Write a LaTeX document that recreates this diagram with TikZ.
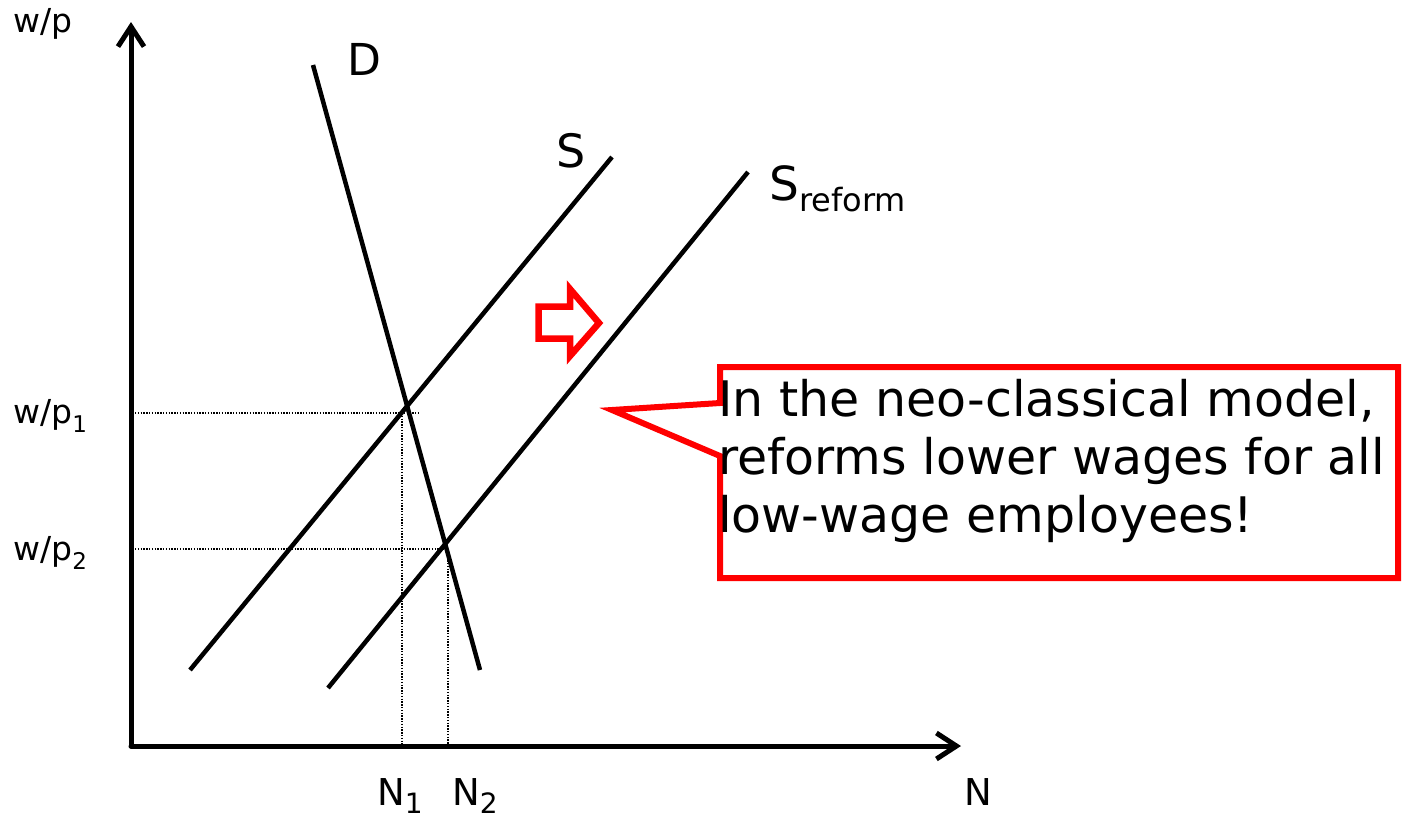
\documentclass[tikz,border=0pt]{standalone}
\usepackage{fontspec}
\setmainfont{DejaVu Sans}
\usetikzlibrary{arrows.meta}
\tikzset{
  axisline/.style={line width=5pt,line cap=round,line join=round,-{Straight Barb[length=20pt,width=26pt,line width=5pt]}},
  curve/.style={line width=4.5pt},
  guide/.style={line width=1.3pt,dash pattern=on 1.4pt off 1.4pt},
  lbl/.style={inner sep=0pt,anchor=base west},
  redline/.style={draw=red,line width=6pt},
  callouttext/.style={inner sep=0pt,anchor=base west,font=\fontsize{49}{49}\selectfont}
}
\begin{document}
\begin{tikzpicture}[x=1pt,y=-1pt]
\useasboundingbox (0,0) rectangle (1402,817);
\fill[white] (0,0) rectangle (1402,817);
% axes
\coordinate (O) at (131,746);
\coordinate (ytip) at (131,22);
\coordinate (xtip) at (961,746);
\draw[axisline] (O) -- (ytip);
\draw[axisline] (O) -- (xtip);
% curves
\coordinate (d1) at (313,65);
\coordinate (d2) at (480,670);
\coordinate (s1) at (190,670);
\coordinate (s2) at (612,157);
\coordinate (r1) at (328,688);
\coordinate (r2) at (748,172);
\draw[curve] (d1) -- (d2);
\draw[curve] (s1) -- (s2);
\draw[curve] (r1) -- (r2);
% guides
\coordinate (h1a) at (135,413);
\coordinate (h1b) at (418,413);
\coordinate (v1a) at (402,413);
\coordinate (v1b) at (402,744);
\coordinate (h2a) at (135,549);
\coordinate (h2b) at (447,549);
\coordinate (v2a) at (448,549);
\coordinate (v2b) at (448,744);
\draw[guide] (h1a) -- (h1b);
\draw[guide] (v1a) -- (v1b);
\draw[guide] (h2a) -- (h2b);
\draw[guide] (v2a) -- (v2b);
% labels
\node[lbl,font=\fontsize{33}{33}\selectfont] (wp) at (13,32) {w/p};
\node[lbl,font=\fontsize{33}{33}\selectfont] (wp1) at (13,423) {w/p\raisebox{-9pt}{\fontsize{23}{23}\selectfont 1}};
\node[lbl,font=\fontsize{33}{33}\selectfont] (wp2) at (13,560) {w/p\raisebox{-9pt}{\fontsize{23}{23}\selectfont 2}};
\node[lbl,font=\fontsize{37}{37}\selectfont] (n1) at (377,805) {N\raisebox{-8pt}{\fontsize{28}{28}\selectfont 1}};
\node[lbl,font=\fontsize{37}{37}\selectfont] (n2) at (452,805) {N\raisebox{-8pt}{\fontsize{28}{28}\selectfont 2}};
\node[lbl,font=\fontsize{37}{37}\selectfont] (nn) at (964,805) {N};
\node[lbl,font=\fontsize{44}{44}\selectfont] (dl) at (347,75) {D};
\node[lbl,font=\fontsize{46}{46}\selectfont] (sl) at (556,167) {S};
\node[lbl,font=\fontsize{47}{47}\selectfont] (rl) at (769,200) {S\raisebox{-11pt}{\fontsize{32}{32}\selectfont reform}};
% shift arrow
\draw[draw=red,line width=6.5pt,line join=miter]
  (538.5,306.5) -- (570,306.5) -- (570,289) -- (599,323) -- (570,356) -- (570,338.5) -- (538.5,338.5) -- cycle;
% callout
\coordinate (ctip) at (612,410);
\draw[redline,line join=miter]
  (720,367) -- (1398,367) -- (1398,578) -- (720,578) -- (720,456) -- (ctip) -- (720,403) -- cycle;
\node[callouttext] (t1) at (718,416) {In the neo-classical model,};
\node[callouttext] (t2) at (718,474) {reforms lower wages for all};
\node[callouttext] (t3) at (718,532) {low-wage employees!};
\end{tikzpicture}
\end{document}
